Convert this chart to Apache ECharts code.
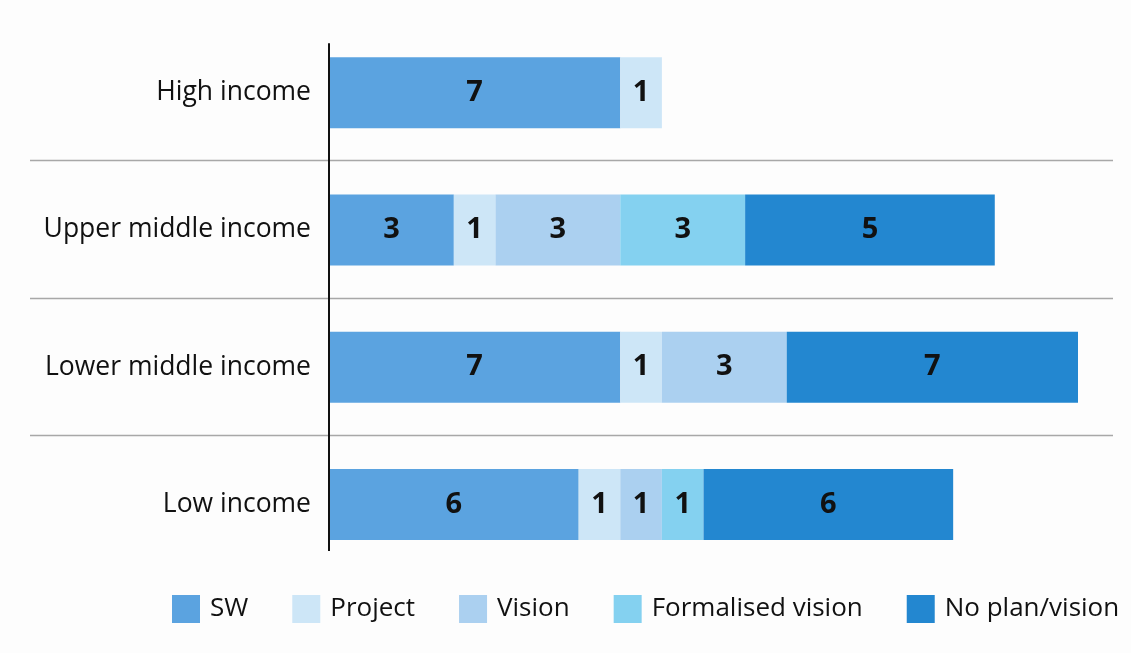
<!DOCTYPE html>
<html>
<head>
<meta charset="utf-8">
<script src="https://cdn.jsdelivr.net/npm/echarts@6/dist/echarts.min.js"></script>
<style>
html,body{margin:0;padding:0;background:#fdfdfd;}
#chart{width:1131px;height:653px;}
</style>
</head>
<body>
<div id="chart"></div>
<script>
const categories = ['High income', 'Upper middle income', 'Lower middle income', 'Low income'];
const seriesNames = ['SW', 'Project', 'Vision', 'Formalised vision', 'No plan/vision'];
const swValues = [7, 3, 7, 6];
const projectValues = [1, 1, 1, 1];
const visionValues = [null, 3, 3, 1];
const formalisedValues = [null, 3, null, 1];
const noPlanValues = [null, 6, 7, 6];      // bar lengths as drawn
const noPlanLabels = ['', '5', '7', '6'];  // numbers printed on the bars
const colors = ['#5ba3e0', '#cde6f7', '#abd0f0', '#84d1f0', '#2387d0'];
const FONT = '"Open Sans", "Noto Sans", sans-serif';

const allValues = [swValues, projectValues, visionValues, formalisedValues, noPlanValues];

const chart = echarts.init(document.getElementById('chart'));

const series = allValues.map((vals, si) => ({
  name: seriesNames[si],
  type: 'bar',
  stack: 'total',
  barWidth: 71,
  data: vals,
  itemStyle: { color: colors[si] },
  label: {
    show: true,
    position: 'inside',
    color: '#111',
    fontFamily: FONT,
    fontWeight: 'bold',
    fontSize: 29,
    formatter: p => (si === 4 ? noPlanLabels[p.dataIndex] : String(p.value))
  },
  emphasis: { disabled: true }
}));

chart.setOption({
  backgroundColor: '#fdfdfd',
  animation: false,
  grid: { left: 329, top: 24, width: 749, height: 549, containLabel: false },
  xAxis: {
    type: 'value', min: 0, max: 18,
    show: false
  },
  yAxis: {
    type: 'category',
    data: categories,
    inverse: true,
    axisLine: { show: false },
    axisTick: { show: false },
    splitLine: { show: false },
    axisLabel: { color: '#111', fontFamily: FONT, fontSize: 26.5, margin: 18 }
  },
  legend: {
    data: seriesNames,
    left: 172,
    top: 595,
    width: 959,
    padding: 0,
    icon: 'rect',
    itemWidth: 28,
    itemHeight: 28,
    itemGap: 44,
    textStyle: { color: '#111', fontFamily: FONT, fontSize: 26, padding: [0, 0, 0, 5] },
    selectedMode: false
  },
  series: series
});

// separators between categories and the vertical axis line
const centers = categories.map((c, i) => chart.convertToPixel({ yAxisIndex: 0 }, i));
const band = centers[1] - centers[0];
const x0 = chart.convertToPixel({ xAxisIndex: 0 }, 0);
const graphics = [];
for (let i = 0; i < categories.length - 1; i++) {
  const y = Math.round((centers[i] + centers[i + 1]) / 2) - 0.5;
  graphics.push({
    type: 'line', silent: true, z: 0,
    shape: { x1: 30, y1: y, x2: 1113, y2: y },
    style: { stroke: '#a8a8a8', lineWidth: 1.3 }
  });
}
graphics.push({
  type: 'line', silent: true, z: 10,
  shape: { x1: x0, y1: centers[0] - band * 0.36, x2: x0, y2: centers[categories.length - 1] + band * 0.34 },
  style: { stroke: '#111', lineWidth: 2 }
});
chart.setOption({ graphic: graphics });
</script>
</body>
</html>
